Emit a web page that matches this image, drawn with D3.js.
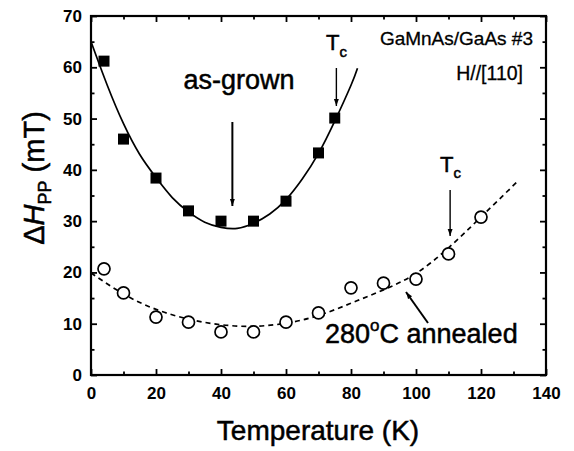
<!DOCTYPE html>
<html>
<head>
<meta charset="utf-8">
<script src="https://cdn.jsdelivr.net/npm/d3@7"></script>
<style>
  body { margin: 0; background: #fff; }
  svg { display: block; font-family: "Liberation Sans", Arial, sans-serif; }
  .lbl { stroke: #000; stroke-width: 0.5px; }
</style>
</head>
<body>
<svg id="chart" width="574" height="451"></svg>
<script>
// measured points
const grownT = [4, 10, 20, 30, 40, 50, 60, 70, 75];
const grownH = [61.2, 46.0, 38.4, 32.0, 30.0, 30.0, 33.9, 43.3, 50.1];
const annealT = [4, 10, 20, 30, 40, 50, 60, 70, 80, 90, 100, 110, 120];
const annealH = [20.7, 16.0, 11.3, 10.3, 8.4, 8.4, 10.3, 12.1, 17.0, 17.9, 18.7, 23.6, 30.8];

// fit curves
const grownFitT = [0, 5, 10, 15, 20, 25, 30, 35, 40, 45, 50, 55, 60, 65, 70, 75, 80, 82];
const grownFitH = [65, 56.5, 49, 43, 38.5, 34.6, 31.8, 29.8, 28.8, 28.6, 29.6, 31.4, 34.2, 38.2, 43.2, 49.5, 56.5, 59.8];
const annealFitT = [0, 10, 20, 30, 40, 50, 60, 70, 80, 90, 100, 110, 120, 131];
const annealFitH = [19.9, 15.8, 12.8, 10.9, 9.8, 9.5, 10.1, 11.6, 14.0, 16.6, 19.8, 24.8, 30.8, 37.6];

const xTicks = [0, 20, 40, 60, 80, 100, 120, 140];
const yTicks = [0, 10, 20, 30, 40, 50, 60, 70];

const svg = d3.select("#chart");
const x = d3.scaleLinear().domain([0, 140]).range([91, 546]);
const y = d3.scaleLinear().domain([0, 70]).range([375, 16]);
const W = 546 - 91, H = 375 - 16;

// axes, ticks pointing inwards on all four sides
svg.append("g").attr("transform", "translate(0,375)")
  .call(d3.axisBottom(x).tickValues(xTicks).tickSize(-6).tickPadding(12).tickFormat(d3.format("d")));
svg.append("g").attr("transform", "translate(0,375)")
  .call(d3.axisBottom(x).tickValues(d3.range(10, 140, 20)).tickSize(-3.5).tickFormat(""));
svg.append("g").attr("transform", "translate(91,0)")
  .call(d3.axisLeft(y).tickValues(yTicks).tickSize(-6).tickPadding(9).tickFormat(d3.format("d")));
svg.append("g").attr("transform", "translate(91,0)")
  .call(d3.axisLeft(y).tickValues(d3.range(5, 70, 10)).tickSize(-3.5).tickFormat(""));
svg.append("g").attr("transform", "translate(0,16)")
  .call(d3.axisTop(x).tickValues(xTicks).tickSize(-6).tickFormat(""));
svg.append("g").attr("transform", "translate(0,16)")
  .call(d3.axisTop(x).tickValues(d3.range(10, 140, 20)).tickSize(-3.5).tickFormat(""));
svg.append("g").attr("transform", "translate(546,0)")
  .call(d3.axisRight(y).tickValues(yTicks).tickSize(-6).tickFormat(""));
svg.append("g").attr("transform", "translate(546,0)")
  .call(d3.axisRight(y).tickValues(d3.range(5, 70, 10)).tickSize(-3.5).tickFormat(""));

svg.selectAll(".domain").remove();
svg.selectAll(".tick line").attr("stroke", "#000").attr("stroke-width", 1.8);
svg.selectAll(".tick text").attr("font-size", 17).attr("font-weight", "bold")
  .attr("font-family", "Liberation Sans, Arial, sans-serif").attr("fill", "#000");

svg.append("rect").attr("x", 91).attr("y", 16).attr("width", W).attr("height", H)
  .attr("fill", "none").attr("stroke", "#000").attr("stroke-width", 2.2);

// fit lines
const line = d3.line().x(d => x(d[0])).y(d => y(d[1])).curve(d3.curveNatural);
svg.append("path").datum(d3.zip(grownFitT, grownFitH)).attr("d", line)
  .attr("fill", "none").attr("stroke", "#000").attr("stroke-width", 1.7);
svg.append("path").datum(d3.zip(annealFitT, annealFitH)).attr("d", line)
  .attr("fill", "none").attr("stroke", "#000").attr("stroke-width", 1.7)
  .attr("stroke-dasharray", "5,4");

// markers
svg.append("g").selectAll("rect").data(d3.zip(grownT, grownH)).enter().append("rect")
  .attr("x", d => x(d[0]) - 5.5).attr("y", d => y(d[1]) - 5.5)
  .attr("width", 11).attr("height", 11).attr("fill", "#000");
svg.append("g").selectAll("circle").data(d3.zip(annealT, annealH)).enter().append("circle")
  .attr("cx", d => x(d[0])).attr("cy", d => y(d[1])).attr("r", 6)
  .attr("fill", "#fff").attr("stroke", "#000").attr("stroke-width", 1.7);

// arrows
svg.append("defs").append("marker").attr("id", "arr")
  .attr("viewBox", "0 0 10 10").attr("refX", 10).attr("refY", 5)
  .attr("markerWidth", 7).attr("markerHeight", 7).attr("markerUnits", "userSpaceOnUse")
  .attr("orient", "auto")
  .append("path").attr("d", "M0,1.5L10,5L0,8.5z").attr("fill", "#000");

function arrow(x1, y1, x2, y2, w) {
  svg.append("line").attr("x1", x1).attr("y1", y1).attr("x2", x2).attr("y2", y2)
    .attr("stroke", "#000").attr("stroke-width", w).attr("marker-end", "url(#arr)");
}
arrow(x(43.5), 122, x(43.5), 206, 2);
arrow(x(75.5), 68, x(75.5), 106, 1.4);
arrow(x(110.5), 190, x(110.5), 236, 1.4);
arrow(428, 323, 406, 292, 2);

// labels
function txt(s, xx, yy, size, anchor) {
  return svg.append("text").attr("class", "lbl").attr("x", xx).attr("y", yy).attr("font-size", size)
    .attr("text-anchor", anchor || "start").attr("fill", "#000").text(s);
}
txt("as-grown", 239, 89, 27, "middle");
txt("GaMnAs/GaAs #3", 533, 45, 19, "end").style("stroke-width", "0.3px");
txt("H//[110]", 523, 80, 19.5, "end").style("stroke-width", "0.3px");

const tc1 = svg.append("text").attr("class", "lbl").attr("x", 326).attr("y", 50).attr("font-size", 22);
tc1.append("tspan").text("T");
tc1.append("tspan").attr("font-size", 15).attr("dy", 7).text("c");
const tc2 = svg.append("text").attr("class", "lbl").attr("x", 440).attr("y", 172).attr("font-size", 22);
tc2.append("tspan").text("T");
tc2.append("tspan").attr("font-size", 15).attr("dy", 6).text("c");

const ann = svg.append("text").attr("class", "lbl").attr("x", 325).attr("y", 343).attr("font-size", 27);
ann.append("tspan").text("280");
ann.append("tspan").attr("font-size", 17).attr("dy", -12).text("o");
ann.append("tspan").attr("dy", 12).text("C annealed");

txt("Temperature (K)", 318, 440, 28, "middle");

const yl = svg.append("text").attr("class", "lbl").attr("transform", "translate(44,178) rotate(-90)")
  .attr("text-anchor", "middle").attr("font-size", 29);
yl.append("tspan").text("Δ");
yl.append("tspan").attr("font-style", "italic").text("H");
yl.append("tspan").attr("font-size", 18).attr("dy", 7).text("PP");
yl.append("tspan").attr("dy", -7).text(" (mT)");
</script>
</body>
</html>
